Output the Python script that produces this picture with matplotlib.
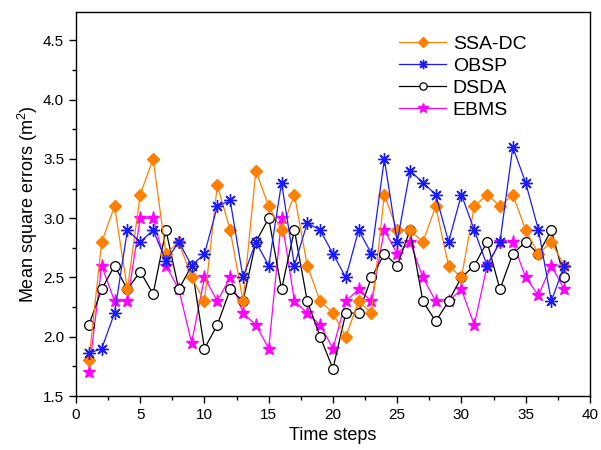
import matplotlib
matplotlib.use("Agg")
import matplotlib.pyplot as plt
from matplotlib.ticker import MultipleLocator

plt.rcParams['font.family'] = ['Liberation Sans', 'DejaVu Sans']
plt.rcParams['mathtext.fontset'] = 'custom'
plt.rcParams['mathtext.rm'] = 'Liberation Sans'

steps = list(range(1, 39))
ssa_dc = [1.80, 2.80, 3.10, 2.40, 3.20, 3.50, 2.70, 2.80, 2.50, 2.30,
          3.28, 2.90, 2.30, 3.40, 3.10, 2.90, 3.20, 2.60, 2.30, 2.20,
          2.00, 2.30, 2.20, 3.20, 2.90, 2.90, 2.80, 3.10, 2.60, 2.50,
          3.10, 3.20, 3.10, 3.20, 2.90, 2.70, 2.80, 2.60]
obsp = [1.86, 1.90, 2.20, 2.90, 2.80, 2.90, 2.64, 2.80, 2.60, 2.70,
        3.10, 3.15, 2.50, 2.80, 2.60, 3.30, 2.60, 2.96, 2.90, 2.70,
        2.50, 2.90, 2.70, 3.50, 2.80, 3.40, 3.30, 3.20, 2.80, 3.20,
        2.90, 2.60, 2.80, 3.60, 3.30, 2.90, 2.30, 2.60]
dsda = [2.10, 2.40, 2.60, 2.40, 2.55, 2.36, 2.90, 2.40, 2.60, 1.90,
        2.10, 2.40, 2.30, 2.80, 3.00, 2.40, 2.90, 2.30, 2.00, 1.73,
        2.20, 2.20, 2.50, 2.70, 2.60, 2.90, 2.30, 2.13, 2.30, 2.50,
        2.60, 2.80, 2.40, 2.70, 2.80, 2.70, 2.90, 2.50]
ebms = [1.70, 2.60, 2.30, 2.30, 3.00, 3.00, 2.60, 2.40, 1.95, 2.50,
        2.30, 2.50, 2.20, 2.10, 1.90, 3.00, 2.30, 2.20, 2.10, 1.90,
        2.30, 2.40, 2.30, 2.90, 2.70, 2.80, 2.50, 2.30, 2.30, 2.40,
        2.10, 2.60, 2.80, 2.80, 2.50, 2.35, 2.60, 2.40]

fig = plt.figure(figsize=(6.01, 4.5), dpi=100)
ax = fig.add_axes([0.1265, 0.12, 0.855, 0.8533])

h1, = ax.plot(steps, ssa_dc, color='#FF8000', lw=0.9, marker='D', ms=6.5,
              mfc='#FF8000', mec='#FF8000', label='SSA-DC', zorder=3)
h2, = ax.plot(steps, obsp, color='#1A1AFF', lw=0.9, marker=(8, 2, 0), ms=9,
              mew=1.0, mec='#1A1AFF', label='OBSP', zorder=4)
h3, = ax.plot(steps, dsda, color='black', lw=0.9, marker='o', ms=7,
              mfc='white', mec='black', mew=0.9, label='DSDA', zorder=2)
h4, = ax.plot(steps, ebms, color='#FF00FF', lw=0.9, marker='*', ms=9.5,
              mfc='#FF00FF', mec='#FF00FF', label='EBMS', zorder=1)

ax.set_xlim(0, 40)
ax.set_ylim(1.5, 4.74)
ax.xaxis.set_major_locator(MultipleLocator(5))
ax.xaxis.set_minor_locator(MultipleLocator(2.5))
ax.yaxis.set_major_locator(MultipleLocator(0.5))
ax.yaxis.set_minor_locator(MultipleLocator(0.25))
ax.tick_params(which='both', direction='out', top=False, right=False,
               labelsize=11, width=1)
ax.tick_params(which='major', length=5)
ax.tick_params(which='minor', length=3)
for s in ax.spines.values():
    s.set_linewidth(1.0)

ax.set_xlabel('Time steps', fontsize=13)
ax.set_ylabel('Mean square errors (m$^2$)', fontsize=13, labelpad=2)

leg = ax.legend(handles=[h1, h2, h3, h4], loc='upper left',
                bbox_to_anchor=(0.595, 0.985), frameon=False, fontsize=14,
                handlelength=2.4, handletextpad=0.35, labelspacing=0.22,
                markerscale=0.75)

fig.savefig('out.png', dpi=100)
